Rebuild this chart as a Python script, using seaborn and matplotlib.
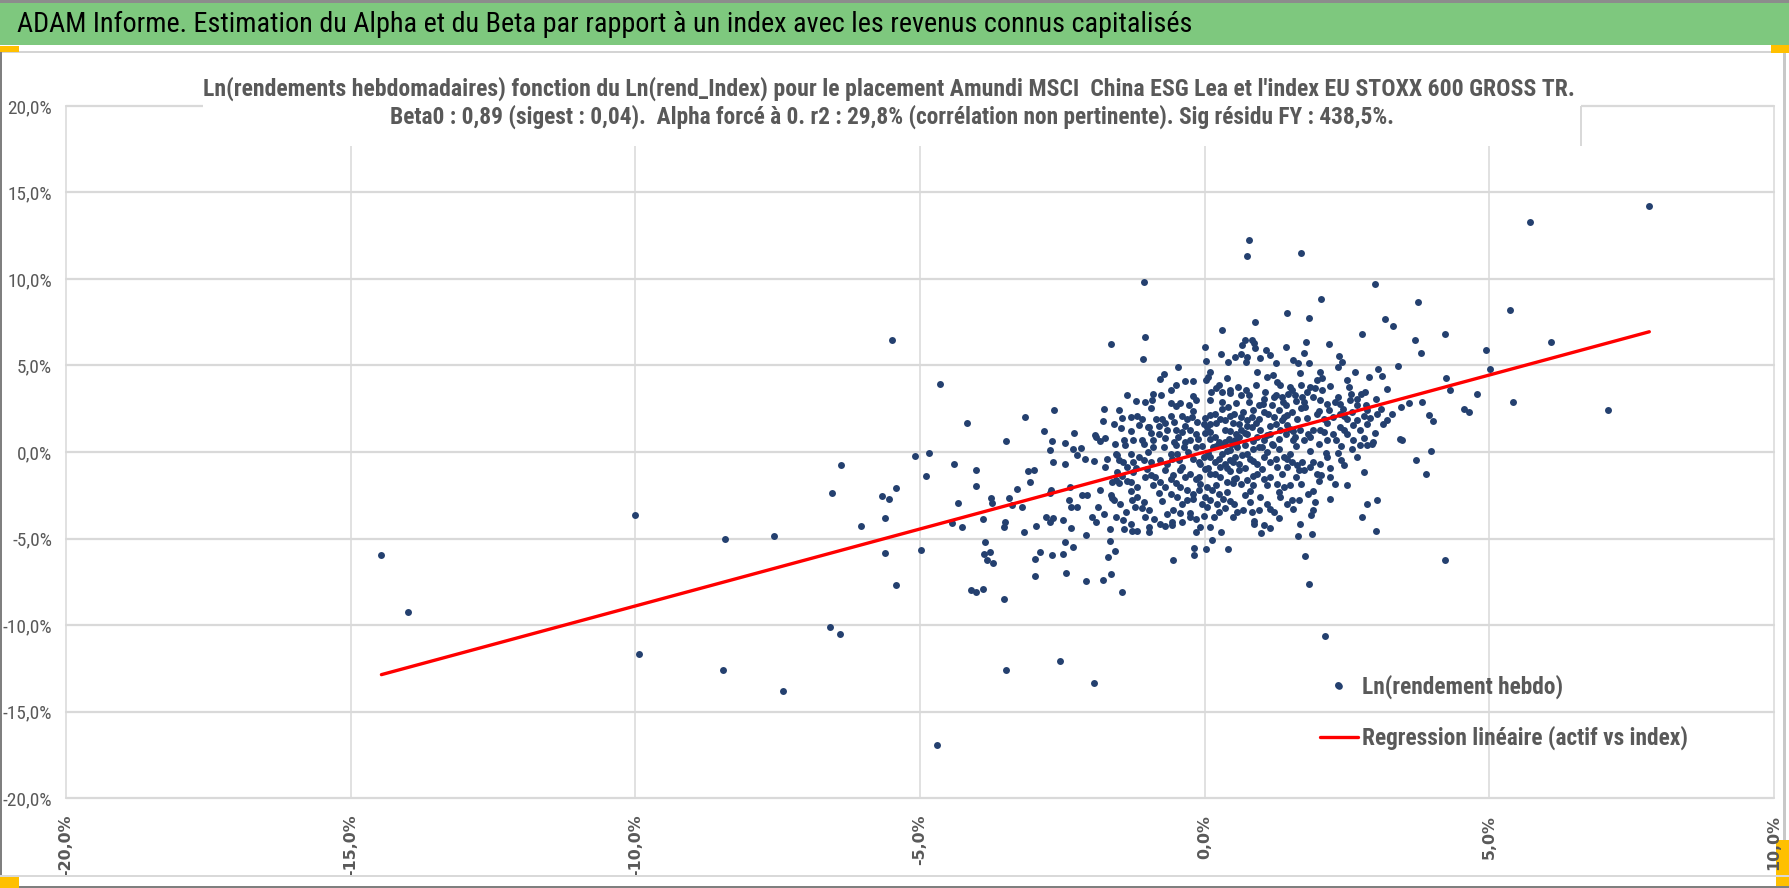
import numpy as np
import pandas as pd
import matplotlib
matplotlib.use("Agg")
import matplotlib.pyplot as plt
import seaborn as sns
from matplotlib.patches import Rectangle
from matplotlib.lines import Line2D
from matplotlib.ticker import MultipleLocator, FuncFormatter

# ---------------------------------------------------------------------------
# data (weekly log returns, in %)
# index = Ln(rend_Index), fund = Ln(rendement hebdo)
# ---------------------------------------------------------------------------
far_idx = [-14.46, -13.99, -10.00, -9.94, -8.42, -8.46, -7.57, -7.41, -6.58, -6.40,
           -6.54, -6.38, -6.03, -5.66, -5.54, -5.42, -5.62, -5.62, -5.42, -5.50, -4.71]
far_fund = [-5.95, -9.23, -3.66, -11.70, -5.01, -12.62, -4.86, -13.81, -10.10, -10.50,
            -2.39, -0.77, -4.26, -2.56, -2.72, -2.06, -3.83, -5.86, -7.71, 6.50, -16.96]

left_idx = [-5.08, -4.84, -4.89, -4.98, -4.65, -4.17, -4.41, -4.33, -4.02, -4.02,
            -4.43, -4.27, -3.90, -3.86, -3.88, -3.77, -3.83, -3.72, -4.10, -4.02,
            -3.90, -3.53, -3.49, -3.76, -3.74, -3.43, -3.39, -3.29, -3.21, -3.50,
            -3.53, -3.17, -3.15, -3.10, -2.99, -3.06, -2.97, -2.98, -2.90, -2.98,
            -2.82, -2.64, -2.68, -2.72, -2.66, -2.72, -2.70, -2.79, -2.72, -2.67,
            -2.68, -2.46, -2.46, -2.32, -2.25, -2.29, -2.36, -2.38, -2.34, -2.24,
            -2.48, -2.35, -2.46, -2.48, -2.32, -2.44, -2.17, -2.11, -2.15, -2.07,
            -2.08, -2.09, -1.98, -1.91, -1.93, -1.91, -1.83, -1.94, -1.87, -1.84]
left_fund = [-0.21, -0.04, -1.39, -5.64, 3.94, 1.66, -0.71, -2.93, -1.04, -1.99,
             -4.09, -4.34, -3.86, -5.21, -5.91, -5.79, -6.22, -6.39, -7.99, -8.09,
             -7.92, -8.51, 0.64, -2.66, -2.92, -2.66, -3.09, -2.16, -3.17, -4.02,
             -4.32, -4.61, 2.01, -1.10, -1.04, -1.74, -4.27, -6.16, -5.79, -7.16,
             1.24, 2.41, 0.64, 0.12, -0.56, -2.39, -2.20, -3.75, -4.03, -3.82,
             -5.97, 0.50, -0.71, 0.15, -0.17, 1.08, -2.01, -2.78, -3.17, -3.17,
             -3.94, -4.42, -5.19, -5.89, -5.52, -6.99, 0.21, -0.41, -2.49, -2.49,
             -4.77, -7.47, -3.75, -4.03, 0.98, 0.85, 0.64, -0.52, -3.17, -2.20]

tail_idx = [-1.78, -1.67, -1.64, -1.70, -1.57, -1.46, -1.27, -1.18, -0.97, -0.56,
            -0.19, -0.18, -0.16, 0.02, 0.13, 0.29, 0.41, -3.49, -2.54, -1.95,
            -1.43, -1.41, -1.22, -1.37, -1.56, -1.64, -1.62, -1.67, -1.75, -1.07,
            -1.00, -0.97, -1.04, -0.57, -0.39, -0.26, -1.28, -1.43, -1.56, -1.26]
tail_fund = [-7.41, -5.14, -7.03, -6.06, -5.71, -8.09, -4.56, -4.56, -4.61, -6.25,
             -5.54, -5.97, -4.61, -5.58, -5.06, -4.65, -5.62, -12.58, -12.06, -13.35,
             -3.94, -4.44, -3.17, -1.66, -1.62, -2.49, -2.68, -4.46, -0.85, -0.46,
             1.47, -4.32, -3.75, -4.23, -4.03, -3.55, -2.78, -0.56, -0.12, -1.14]

right_idx = [0.77, 0.75, 1.70, -1.07, 3.00, 2.05, 3.75, 1.44, 1.84, 0.88,
             3.16, 3.30, 3.69, 4.22, 3.80, 4.94, 5.02, 4.24, 4.31, 4.78,
             3.44, 3.59, 3.82, 4.55, 4.65, 3.94, 4.01, 3.47, 3.72, 3.98,
             3.89, 7.81, 5.71, 5.36, 6.09, 5.42, 7.09, 1.64, 1.89, 1.76,
             1.83, 2.11, 0.99, 3.01, 4.22, 2.35]
right_fund = [12.24, 11.33, 11.49, 9.81, 9.71, 8.86, 8.68, 8.01, 7.76, 7.50,
              7.68, 7.31, 6.48, 6.83, 5.71, 5.90, 4.80, 4.29, 3.58, 3.35,
              2.59, 2.84, 2.90, 2.51, 2.32, 2.13, 1.80, 0.72, -0.48, 0.04,
              -1.26, 14.21, 13.27, 8.21, 6.37, 2.90, 2.40, -4.83, -4.75, -6.02,
              -7.62, -10.65, -4.67, -4.58, -6.25, -13.44]

upper_idx = [-1.65, -1.05, -1.09, 0.00, 0.03, 0.30, 0.29, 0.41, 0.53, 0.63,
             0.66, 0.70, 0.83, 0.87, 0.89, 0.72, 0.75, 0.98, 1.08, 1.15,
             1.25, 1.42, 1.55, 1.64, 1.74, 1.78, 1.83, 2.19, 2.36, 2.34,
             2.42, 2.76, 3.39, -0.46, -0.71, -0.78, -0.35, -0.20, -0.60, -0.77,
             -1.36, -1.04, -0.92, -0.43, -0.51, -0.27, -0.15, -1.77, 0.02, 0.06,
             0.10, 0.26, 0.40, 0.30, 0.44, 0.12, 0.30, 0.41, 0.58, 0.63,
             0.73, 0.78, 0.77, 0.92, 1.09, 1.20, 1.27, 1.33, 1.06, 1.04,
             1.02, 1.21, 1.18, 1.36, 1.37, 1.42, 1.47, 1.53, 1.58, 1.68,
             1.70, 1.71, 1.74, 1.80, 1.77, 1.85, 1.94, 1.97, 2.03, 2.06,
             2.06, 2.03, 2.29, 2.34, 2.37, 2.43, 2.50, 2.54, 2.57, 2.64,
             2.68, 2.67, 2.82, 2.88, 3.05, 3.11, 3.20, 3.01, 2.83]
upper_fund = [6.25, 6.67, 5.38, 6.09, 5.28, 7.06, 5.67, 5.20, 5.47, 5.67,
              6.19, 6.48, 6.48, 6.29, 6.00, 5.22, 5.51, 5.45, 5.90, 5.61,
              5.13, 6.09, 5.32, 5.13, 5.71, 6.38, 5.13, 6.23, 5.55, 4.93,
              5.22, 6.83, 4.99, 4.89, 4.49, 4.20, 4.10, 4.10, 3.58, 3.29,
              3.27, 2.90, 3.00, 2.84, 2.65, 2.71, 3.00, 2.51, 4.16, 4.35,
              4.64, 3.87, 4.29, 3.44, 3.58, 3.48, 2.90, 2.61, 3.77, 3.29,
              3.58, 3.29, 2.90, 4.64, 4.35, 4.45, 4.06, 3.87, 3.48, 3.09,
              2.80, 3.19, 2.71, 3.19, 2.90, 2.71, 3.38, 3.58, 3.29, 4.55,
              3.87, 3.19, 2.90, 3.48, 2.61, 3.77, 3.68, 4.16, 4.64, 4.26,
              3.58, 3.00, 2.90, 3.19, 2.80, 2.51, 4.16, 3.77, 3.38, 4.60,
              3.09, 2.71, 3.48, 4.35, 4.78, 4.39, 3.62, 3.09, 2.71]

middle_idx = [-1.78, -1.45, -1.47, -1.19, -1.10, -0.98, -0.75, -0.59, -0.53, -0.66,
              -0.81, -0.91, -0.51, -0.46, -0.54, -0.31, -0.22, -0.13, -0.25, -0.16,
              -0.11, -0.37, -0.72, -1.07, -1.25, -1.41, -1.57, -0.02, 0.04, 0.10,
              0.19, 0.25, 0.30, 0.36, 0.42, 0.48, 0.54, 0.57, 0.10, 0.19,
              0.27, 0.36, 0.51, 0.63, 0.68, 0.74, 0.83, 0.63, 0.74, 0.83,
              0.92, 0.98, 1.04, 1.09, 1.18, 1.12, 1.21, 1.30, 1.36, 1.44,
              1.53, 1.62, 1.33, 1.42, 1.50, 1.59, 1.68, 1.74, 1.82, 1.91,
              1.97, 2.09, 2.18, 2.26, 2.38, 2.50, 2.58, 2.67, 2.79, 2.85,
              2.03, 2.15, 2.26, 2.38, 2.50, 2.61, 2.73, 2.85, 2.94, 3.02,
              3.14, 3.21, 3.29, 3.43, 2.58, 2.73, 0.15, 0.45, 0.70, 0.85,
              -0.05, 0.35, 0.55, 0.20, 0.90, 1.15, -0.35, -0.80, 0.60, 1.00,
              1.30]
middle_fund = [1.78, 1.97, 1.41, 2.07, 1.93, 1.45, 1.88, 2.07, 1.74, 1.26,
               1.06, 0.68, 1.26, 0.87, 0.58, 1.93, 2.03, 1.74, 1.26, 1.06,
               0.77, 0.29, 0.29, 0.48, 0.68, 0.68, 0.48, 1.64, 1.45, 1.16,
               0.87, 0.58, 0.39, 0.58, 0.77, 0.48, 0.68, 0.29, 2.13, 2.22,
               1.93, 1.84, 2.22, 2.03, 2.32, 1.84, 2.03, 1.26, 1.06, 1.45,
               0.87, 1.26, 0.68, 0.97, 0.48, 2.22, 2.03, 2.42, 1.84, 2.13,
               2.32, 1.93, 1.26, 1.06, 1.35, 0.87, 1.26, 0.68, 1.06, 1.26,
               2.22, 1.93, 2.42, 2.03, 2.22, 1.93, 2.32, 1.84, 2.07, 2.42,
               1.26, 0.68, 1.06, 1.45, 1.06, 0.68, 1.26, 1.64, 0.48, 2.22,
               1.64, 1.84, 2.22, 0.77, 0.19, 0.39, 0.30, 0.10, 0.40, 0.15,
               0.35, 1.30, 1.05, 1.70, 1.70, 1.50, 0.60, 1.50, 1.60, 0.30,
               0.20]

lower_idx = [-1.71, -1.54, -1.30, -1.25, -1.16, -1.36, -1.54, -1.63, -1.30, -1.19,
             -1.01, -0.95, -0.87, -0.78, -0.66, -0.57, -0.49, -0.78, -0.69, -0.60,
             -0.43, -0.34, -0.25, -0.16, -0.08, -0.02, -0.43, -0.31, -0.08, 0.04,
             0.13, 0.10, 0.19, 0.27, 0.36, 0.45, 0.54, 0.60, 0.19, 0.27,
             0.39, 0.51, 0.63, 0.74, 0.80, 0.92, 1.04, 1.15, 1.27, 1.39,
             0.92, 1.04, 1.15, 1.27, 1.36, 1.44, 1.53, 1.62, 1.71, 1.39,
             1.50, 1.74, 1.85, 1.97, 2.03, 2.15, 2.20, 2.29, 2.44, 2.67,
             2.79, 2.85, 2.95, 0.05, 0.45, 0.70, 0.30, 0.65, -0.20, 0.85,
             -1.77, -1.48, -1.39, -1.30, -1.19, -1.07, -0.98, -0.89, -0.78, -0.66,
             -0.57, -0.49, -0.40, -0.31, -0.43, -0.25, -0.05, 0.04, -0.02, -0.08,
             0.10, 0.22, 0.33, 0.16, 0.25, 0.51, 0.57, 0.68, 0.86, 0.98,
             1.09, 1.21, 1.33, 1.44, 1.53, 1.68, 1.82, 1.94, 1.91, 2.20,
             2.85, 3.02, 2.76, 2.01, 1.87, 1.15, 0.83, 0.86, 1.14, 2.13,
             -0.20, 0.40, -0.60, 0.00, 0.70]
lower_fund = [-0.39, -0.19, -0.10, -0.58, -0.29, -0.87, -1.16, -1.74, -1.74, -2.03,
              -0.97, -1.35, -1.45, -0.48, -0.68, -0.39, -0.10, -1.74, -2.03, -1.55,
              -1.06, -1.45, -1.26, -1.55, -0.68, -0.29, -2.03, -2.22, -1.84, -2.03,
              -2.22, -0.29, -0.58, -0.87, -0.68, -0.48, -0.29, -0.68, -1.26, -1.45,
              -1.74, -1.55, -1.84, -1.64, -0.39, -0.68, -0.29, -0.58, -0.87, -0.29,
              -1.26, -1.55, -1.45, -1.84, -1.26, -0.39, -0.58, -0.77, -0.58, -2.03,
              -1.93, -1.06, -0.87, -1.26, -0.68, -0.29, -1.45, -1.84, -0.77, -0.29,
              -1.16, 0.39, 0.58, -0.90, -1.10, -0.90, -0.10, -0.15, -0.40, -1.90,
              -3.58, -3.00, -3.48, -4.16, -2.61, -2.90, -3.38, -3.87, -4.16, -3.58,
              -4.06, -2.61, -3.00, -2.80, -3.54, -3.77, -3.00, -3.19, -3.68, -4.35,
              -2.80, -3.00, -2.71, -3.77, -3.48, -3.00, -3.48, -3.38, -3.97, -2.61,
              -3.00, -3.48, -2.61, -3.00, -2.80, -4.16, -2.42, -2.90, -3.38, -2.71,
              -3.00, -2.80, -3.77, -1.65, -3.65, -3.29, -3.48, -4.19, -4.42, -0.06,
              -2.40, -2.30, -2.40, -2.60, -2.50]

# points hidden inside the dense core (overlapping dots, estimated)
dense_idx = [-0.50, 0.20, 0.90, 1.50, 2.20,
             -0.90, -0.20, 0.45, 1.25, 1.90, 2.75,
             -1.20, -0.60, 0.10, 0.55, 0.95, 1.60, 2.15, 2.55,
             -1.50, -0.95, -0.20, 0.30, 0.85, 1.05, 1.70, 2.00, 3.10,
             -1.30, -0.85, -0.40, 0.00, 0.45, 0.95, 1.40, 1.80, 2.45, 2.90,
             -1.60, -1.15, -0.70, -0.35, 0.10, 0.50, 0.75, 1.25, 1.45, 2.15, 2.60,
             -1.30, -0.95, -0.40, 0.00, 0.45, 0.70, 1.15, 1.55, 2.10, 2.45, 3.00,
             -1.75, -1.10, -0.70, -0.25, 0.10, 0.60, 0.85, 1.30, 1.55, 1.85, 2.30, 2.80,
             -1.40, -0.90, -0.50, -0.15, 0.20, 0.55, 0.95, 1.20, 1.60, 2.00, 2.40,
             -1.00, -0.60, -0.30, 0.05, 0.40, 0.75, 1.10, 1.50, 1.85, 2.35,
             -1.50, -0.95, -0.45, -0.10, 0.25, 0.50, 0.85, 1.25, 1.90, 2.40,
             -1.20, -0.70, -0.40, 0.00, 0.40, 0.60, 1.00, 1.45, 1.65, 2.20,
             -1.45, -1.05, -0.55, -0.10, 0.10, 0.55, 0.85, 1.60, 2.05,
             -1.50, -0.90, -0.50, 0.20, 0.50, 1.10, 1.70, 2.50,
             -1.30, -0.80, -0.10, 0.25, 0.80, 1.30, 1.90,
             -1.60, -0.75, -0.20, 0.45, 0.80, 1.65,
             -1.10, -0.55, 0.35, 0.95, 1.55,
             -1.55, -0.15, 0.50, 1.30,
             -0.70, 0.10, 1.05]
dense_fund = [3.85, 3.70, 3.90, 3.75, 3.82,
              3.35, 3.22, 3.40, 3.28, 3.18, 3.36,
              2.95, 2.82, 2.98, 2.86, 2.74, 2.92, 2.80, 3.02,
              2.40, 2.52, 2.38, 2.50, 2.44, 2.30, 2.56, 2.36, 2.48,
              2.05, 1.92, 2.10, 1.98, 2.06, 1.90, 2.02, 1.94, 2.10, 1.96,
              1.62, 1.55, 1.68, 1.52, 1.60, 1.70, 1.50, 1.64, 1.56, 1.66, 1.54,
              1.20, 1.08, 1.18, 1.10, 1.24, 1.12, 1.05, 1.20, 1.14, 1.26, 1.10,
              0.80, 0.70, 0.82, 0.68, 0.76, 0.84, 0.66, 0.78, 0.70, 0.86, 0.72, 0.80,
              0.40, 0.30, 0.42, 0.28, 0.36, 0.44, 0.30, 0.40, 0.32, 0.46, 0.34,
              0.00, -0.10, 0.02, -0.08, 0.04, -0.12, -0.02, -0.10, 0.05, -0.06,
              -0.45, -0.56, -0.48, -0.60, -0.42, -0.55, -0.50, -0.40, -0.58, -0.46,
              -0.90, -1.02, -0.88, -1.00, -0.92, -1.06, -0.96, -0.86, -1.04, -0.94,
              -1.36, -1.46, -1.34, -1.44, -1.30, -1.48, -1.38, -1.42, -1.32,
              -1.82, -1.90, -1.78, -1.88, -1.80, -1.92, -1.84, -1.90,
              -2.26, -2.36, -2.22, -2.40, -2.28, -2.34, -2.24,
              -2.76, -2.86, -2.72, -2.84, -2.90, -2.78,
              -3.26, -3.36, -3.24, -3.34, -3.30,
              -3.78, -3.86, -3.74, -3.84,
              -4.28, -4.34, -4.24]

beta0 = 0.89  # "Beta0 : 0,89", alpha forced to 0

header = ("ADAM Informe. Estimation du Alpha et du Beta par rapport à un index "
          "avec les revenus connus capitalisés")
title1 = ("Ln(rendements hebdomadaires) fonction du Ln(rend_Index) pour le placement "
          "Amundi MSCI  China ESG Lea et l'index EU STOXX 600 GROSS TR.")
title2 = ("Beta0 : 0,89 (sigest : 0,04).  Alpha forcé à 0. r2 : 29,8% "
          "(corrélation non pertinente). Sig résidu FY : 438,5%.")
label_points = "Ln(rendement hebdo)"
label_line = "Regression linéaire (actif vs index)"

# ---------------------------------------------------------------------------
NAVY = "#24406f"
GREY_TXT = "#595959"
GRID = "#d9d9d9"
W, H = 1790, 888

sns.set_style("white")
NARROW = ["Liberation Sans Narrow", "Roboto Condensed", "DejaVu Sans Condensed", "Liberation Sans", "DejaVu Sans"]
plt.rcParams["font.family"] = NARROW

fig = plt.figure(figsize=(W / 100, H / 100), dpi=100)


def fx(x):
    return x / W


def fy(y):
    return 1 - y / H


def box(x0, y0, x1, y1, color, z=1):
    fig.add_artist(Rectangle((fx(x0), fy(y1)), (x1 - x0) / W, (y1 - y0) / H,
                             transform=fig.transFigure, facecolor=color,
                             edgecolor="none", zorder=z))


def fit(txt, target, use_height=False):
    r = fig.canvas.get_renderer()
    bb = txt.get_window_extent(r)
    cur = bb.height if use_height else bb.width
    txt.set_fontsize(txt.get_fontsize() * target / cur)
    return txt.get_fontsize()


# frame of the sheet: header band, borders, selection handles
box(0, 0, W, 3, "#8c8c8c", 5)
box(0, 3, W, 45, "#7ec87e", 5)
box(0, 51, W, 53, "#d4d4d4", 5)
box(0, 52, 2, H, "#7f7f7f", 5)
box(1783, 52, 1786, H, "#c8c8c8", -1)
box(0, 875, W, 877, "#d9d9d9", 5)
box(0, 886, W, H, "#7f7f7f", 5)
box(0, 46, 19, 52, "#ffc000", 6)
box(1771, 45, W, 53, "#ffc000", 6)
box(0, 877, 19, H, "#ffc000", 6)
box(1776, 840, W, 887, "#ffc000", -1)

# plot
ax = fig.add_axes([fx(66), fy(798), (1774 - 66) / W, (798 - 106) / H])

pts = pd.DataFrame({
    "index": far_idx + left_idx + tail_idx + right_idx + upper_idx + middle_idx
             + lower_idx + dense_idx,
    "fund": far_fund + left_fund + tail_fund + right_fund + upper_fund + middle_fund
            + lower_fund + dense_fund,
})
sns.scatterplot(data=pts, x="index", y="fund", ax=ax, s=25, color=NAVY,
                linewidth=0, legend=False, zorder=3)

reg = pd.DataFrame({"index": [pts["index"].min(), pts["index"].max()]})
reg["fit"] = beta0 * reg["index"]
sns.lineplot(data=reg, x="index", y="fit", ax=ax, color="#ff0000", lw=2.4, zorder=4)

ax.set_xlim(-20, 10)
ax.set_ylim(-20, 20)
ax.set_xlabel("")
ax.set_ylabel("")
ax.xaxis.set_major_locator(MultipleLocator(5))
ax.yaxis.set_major_locator(MultipleLocator(5))
pct = FuncFormatter(lambda v, _: f"{0.0 if abs(v) < 1e-9 else v:.1f}".replace(".", ",") + "%")
ax.xaxis.set_major_formatter(pct)
ax.yaxis.set_major_formatter(pct)
for s in ax.spines.values():
    s.set_visible(False)
ax.yaxis.grid(True, color=GRID, lw=1.6)
ax.xaxis.grid(True, color=GRID, lw=1.1)
ax.set_axisbelow(True)
ax.tick_params(axis="both", length=0)
ax.tick_params(axis="y", pad=10, labelcolor=GREY_TXT, labelsize=13)
ax.tick_params(axis="x", pad=12, labelcolor=GREY_TXT, labelsize=11.5, labelrotation=90)
for t in ax.get_xticklabels():
    t.set_family("DejaVu Sans")
    t.set_fontweight("bold")
for gl in ax.get_xgridlines() + ax.get_ygridlines():
    gl.set_clip_on(False)

fig.canvas.draw()
ysz = fit(ax.get_yticklabels()[0], 49)
ax.tick_params(axis="y", labelsize=ysz)
xsz = fit(ax.get_xticklabels()[0], 62, use_height=True)
ax.tick_params(axis="x", labelsize=xsz)
for t in ax.get_xticklabels():
    t.set_family("DejaVu Sans")
    t.set_fontweight("bold")

# title box over the top gridline
box(203, 62, 1581, 146, "white", 1.5)
box(1580, 106, 1582, 146, GRID, 1.6)

t_head = fig.text(fx(17), fy(24), header, ha="left", va="center", color="black",
                  fontsize=20, zorder=7)
fit(t_head, 1170)
t1 = fig.text(fx(889), fy(89), title1, ha="center", va="center", color=GREY_TXT,
              fontsize=16, fontweight="bold", zorder=3)
fit(t1, 1370)
t2 = fig.text(fx(892), fy(117), title2, ha="center", va="center", color=GREY_TXT,
              fontsize=16, fontweight="bold", zorder=3)
fit(t2, 1004)

# legend
handles = [Line2D([], [], ls="", marker="o", markersize=4.8, color=NAVY, mew=0),
           Line2D([], [], color="#ff0000", lw=2.4)]
labels = [label_points, label_line]


def make_legend(fs, anchor, spacing):
    fs_px = fs * 100 / 72
    leg = ax.legend(handles, labels, loc="upper left",
                    bbox_to_anchor=(fx(anchor[0]), fy(anchor[1])),
                    bbox_transform=fig.transFigure, frameon=False,
                    prop={"size": fs, "weight": "bold"}, labelcolor=GREY_TXT,
                    handlelength=38 / fs_px, handletextpad=4 / fs_px,
                    labelspacing=spacing, borderpad=0, borderaxespad=0)
    return leg


fs = 16
anchor = [1320, 670]
spacing = 1.0
leg = make_legend(fs, anchor, spacing)
fig.canvas.draw()
fs = fit(leg.get_texts()[1], 326)
for _ in range(3):
    leg.remove()
    leg = make_legend(fs, anchor, spacing)
    fig.canvas.draw()
    r = fig.canvas.get_renderer()
    b0 = leg.get_texts()[0].get_window_extent(r)
    b1 = leg.get_texts()[1].get_window_extent(r)
    c0 = H - (b0.y0 + b0.y1) / 2
    c1 = H - (b1.y0 + b1.y1) / 2
    anchor[0] += 1362 - b0.x0
    anchor[1] += 687 - c0
    spacing += (51 - (c1 - c0)) / (fs * 100 / 72)

fig.savefig("out.png", dpi=100)
